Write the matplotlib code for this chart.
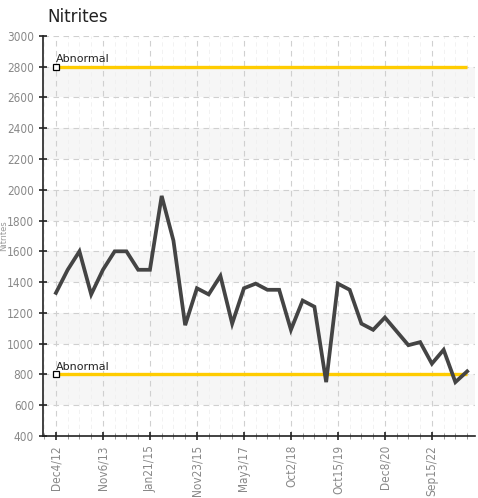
import matplotlib
matplotlib.use("Agg")
import matplotlib.pyplot as plt
import numpy as np
from matplotlib.ticker import MultipleLocator, FixedLocator

# nitrite readings, one per sample (evenly spaced categories)
values = [1330, 1480, 1600, 1320, 1480, 1600, 1600, 1480, 1480, 1960,
          1670, 1120, 1360, 1320, 1440, 1130, 1360, 1390, 1350, 1350,
          1090, 1280, 1240, 750, 1390, 1350, 1130, 1090, 1170, 1080,
          990, 1010, 870, 960, 750, 820]
tick_labels = ["Dec4/12", "Nov6/13", "Jan21/15", "Nov23/15", "May3/17",
               "Oct2/18", "Oct15/19", "Dec8/20", "Sep15/22"]
tick_step = 4
abnormal_levels = [2800, 800]
abnormal_label = "Abnormal"

fig = plt.figure(figsize=(4.78, 4.98), dpi=100)
ax = fig.add_axes([0.09, 0.1245, 0.904, 0.8035])

x = np.arange(len(values))
ax.set_xlim(-1.1, len(values) - 1 + 0.68)
ax.set_ylim(400, 3000)

# alternating background bands
for lo in range(600, 3000, 400):
    ax.axhspan(lo, lo + 200, color="#f6f6f6", zorder=0, lw=0)

ax.yaxis.set_major_locator(MultipleLocator(200))
ax.xaxis.set_major_locator(FixedLocator(x[::tick_step]))
ax.xaxis.set_minor_locator(MultipleLocator(1))
ax.set_xticklabels(tick_labels, rotation=90)

ax.grid(True, which="major", color="#d0d0d0", linestyle=(0, (5, 4)), lw=0.8)
ax.grid(True, which="minor", axis="x", color="#f0f0f0", linestyle=(0, (5, 4)), lw=0.6)
ax.set_axisbelow(True)

for lvl in abnormal_levels:
    ax.plot([x[0], x[-1]], [lvl, lvl], color="#ffcc00", lw=2.4, zorder=3,
            solid_capstyle="butt")
    ax.plot([x[0]], [lvl], marker="s", ms=4, mfc="white", mec="black",
            mew=0.9, zorder=5, clip_on=False)
    ax.text(x[0], lvl + 18, abnormal_label, fontsize=8, color="#222222",
            ha="left", va="bottom", zorder=6, fontweight="medium")

ax.plot(x, values, color="#444444", lw=2.7, zorder=4, solid_joinstyle="miter")

for s in ["top", "right"]:
    ax.spines[s].set_visible(False)
ax.spines["left"].set_color("#222222")
ax.spines["bottom"].set_color("#222222")
ax.spines["left"].set_linewidth(1.2)
ax.spines["bottom"].set_linewidth(1.2)

ax.tick_params(axis="both", which="major", direction="inout", length=6,
               width=1.2, color="#222222", labelcolor="#888888", labelsize=8.5)
ax.tick_params(axis="x", which="minor", direction="inout", length=4,
               width=0.6, color="#888888")
for lab in ax.get_xticklabels() + ax.get_yticklabels():
    lab.set_fontstretch("condensed")

ax.set_ylabel("Nitrites", fontsize=6, color="#999999", va="center")
ax.yaxis.set_label_coords(-0.091, 0.5)

fig.text(0.1, 0.965, "Nitrites", fontsize=12, color="#222222", ha="left", va="center")

fig.savefig("out.png", dpi=100)
